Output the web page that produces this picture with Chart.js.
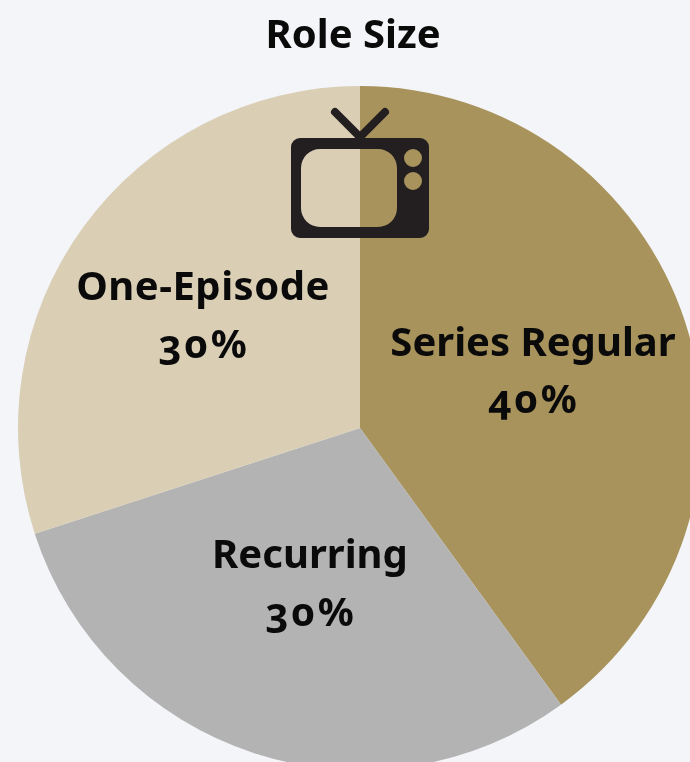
<!DOCTYPE html>
<html><head><meta charset="utf-8">
<script src="https://cdn.jsdelivr.net/npm/chart.js@4/dist/chart.umd.min.js"></script>
<style>
html,body{margin:0;padding:0;width:690px;height:762px;overflow:hidden;background:#f3f5f9}
#wrap{position:absolute;left:0;top:0;width:720px;height:856px}
.t{position:absolute;transform:translateX(-50%);white-space:nowrap;font:700 40px/1 "Noto Sans";color:#0a0a0a;font-feature-settings:"onum" 1,"lnum" 0;font-variant-numeric:oldstyle-nums}
</style></head><body>
<div id="wrap"><canvas id="c" width="720" height="856"></canvas></div>
<div id="labels"></div>
<script>
const categories = ["Series Regular", "Recurring", "One-Episode"];
const values = [40, 30, 30];
const colors = ["#a9935c", "#b3b3b3", "#dacfb5"];
const titleText = "Role Size";
const labelPlaces = [[533,357,414],[310,569,627],[203,301,359]];

function addText(text, x, baseline, size, spacing) {
  const el = document.createElement("div");
  el.className = "t";
  el.textContent = text;
  el.style.left = x + "px";
  el.style.fontSize = size + "px";
  el.style.top = (baseline - size * 0.91) + "px";
  if (spacing) el.style.letterSpacing = spacing + "px";
  document.getElementById("labels").appendChild(el);
}
addText(titleText, 353, 49, 40);
categories.forEach((name,i) => {
  const [x,y1,y2] = labelPlaces[i];
  addText(name, x, y1, 40, name === "One-Episode" ? 0.5 : 0);
  addText(values[i] + "%", x + 1, y2, 40, 3);
});

const tvIcon = {
  id: "tvIcon",
  afterDraw(chart) {
    const ctx = chart.ctx;
    ctx.save();
    ctx.fillStyle = "#231f20";
    ctx.strokeStyle = "#231f20";
    ctx.lineWidth = 8; ctx.lineCap = "round"; ctx.lineJoin = "miter";
    ctx.beginPath(); ctx.moveTo(335,112); ctx.lineTo(360,137); ctx.lineTo(385,112); ctx.stroke();
    ctx.beginPath();
    ctx.roundRect(291,138,138,100,9);
    ctx.roundRect(301,149,96,78,19);
    ctx.moveTo(422,158); ctx.arc(413,158,9,0,Math.PI*2);
    ctx.moveTo(422,181); ctx.arc(413,181,9,0,Math.PI*2);
    ctx.fill("evenodd");
    ctx.restore();
  }
};
new Chart(document.getElementById("c"), {
  type: "pie",
  data: { labels: categories, datasets: [{ data: values, backgroundColor: colors, borderWidth: 0 }] },
  options: {
    responsive: false, animation: false, radius: 342,
    layout: { padding: 0 },
    plugins: { legend: { display: false }, tooltip: { enabled: false }, title: { display: false } }
  },
  plugins: [tvIcon]
});
</script>
</body></html>
